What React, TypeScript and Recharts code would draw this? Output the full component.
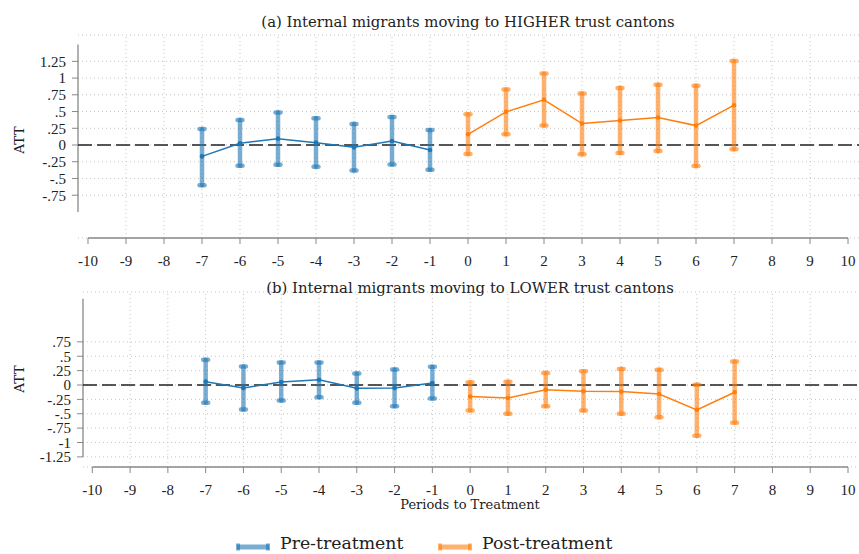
import { ComposedChart, Line, ErrorBar, XAxis, YAxis, CartesianGrid, ReferenceLine } from 'recharts';

const SERIF = '"Liberation Serif", "DejaVu Serif", serif';
const WIDE_SERIF = '"DejaVu Serif", serif';
const BLUE = '#1f77b4';
const ORANGE = '#ff7f0e';

const periodsPre = [-7, -6, -5, -4, -3, -2, -1];
const periodsPost = [0, 1, 2, 3, 4, 5, 6, 7];
const xTicks = [-10, -9, -8, -7, -6, -5, -4, -3, -2, -1, 0, 1, 2, 3, 4, 5, 6, 7, 8, 9, 10];
const gridX = [-9, -8, -7, -6, -5, -4, -3, -2, -1, 0, 1, 2, 3, 4, 5, 6, 7, 8, 9];

// (a) higher trust cantons
const higherPreAtt = [-0.17, 0.025, 0.095, 0.035, -0.035, 0.06, -0.075];
const higherPreLo = [-0.6, -0.31, -0.295, -0.325, -0.38, -0.29, -0.37];
const higherPreHi = [0.24, 0.375, 0.485, 0.4, 0.315, 0.42, 0.225];
const higherPostAtt = [0.16, 0.495, 0.675, 0.32, 0.365, 0.41, 0.29, 0.595];
const higherPostLo = [-0.135, 0.16, 0.29, -0.14, -0.12, -0.09, -0.315, -0.065];
const higherPostHi = [0.46, 0.83, 1.07, 0.77, 0.85, 0.9, 0.885, 1.255];
const higherYTicks = [-0.75, -0.5, -0.25, 0, 0.25, 0.5, 0.75, 1, 1.25];

// (b) lower trust cantons
const lowerPreAtt = [0.058, -0.052, 0.052, 0.092, -0.058, -0.052, 0.035];
const lowerPreLo = [-0.31, -0.427, -0.271, -0.213, -0.31, -0.369, -0.237];
const lowerPreHi = [0.44, 0.323, 0.392, 0.392, 0.202, 0.271, 0.317];
const lowerPostAtt = [-0.202, -0.225, -0.081, -0.11, -0.115, -0.156, -0.433, -0.127];
const lowerPostLo = [-0.444, -0.502, -0.369, -0.444, -0.502, -0.56, -0.883, -0.658];
const lowerPostHi = [0.046, 0.058, 0.208, 0.237, 0.277, 0.265, 0.006, 0.41];
const lowerYTicks = [-1.25, -1, -0.75, -0.5, -0.25, 0, 0.25, 0.5, 0.75];

type Row = { t: number; att: number; err: [number, number] };

function rows(ts: number[], att: number[], lo: number[], hi: number[]): Row[] {
  return ts.map((t, i) => ({ t, att: att[i], err: [att[i] - lo[i], hi[i] - att[i]] }));
}

const fmt = (v: number) => (v === 0 ? '0' : String(v).replace('0.', '.'));

function Panel({
  pre,
  post,
  yTicks,
  yDomain,
  xDomain,
  axisY,
  yAxisWidth,
  height,
  top,
}: {
  pre: Row[];
  post: Row[];
  yTicks: number[];
  yDomain: [number, number];
  xDomain: [number, number];
  axisY: [number, number];
  yAxisWidth: number;
  height: number;
  top: number;
}) {
  const tickStyle = { fontFamily: SERIF, fontSize: 15, fill: '#222' };
  return (
    <ComposedChart
      width={859}
      height={height}
      margin={{ top, right: 0, left: 0, bottom: 0 }}
      style={{ position: 'absolute', left: 0 }}
    >
      <CartesianGrid vertical={false} stroke="#c4c4c4" strokeDasharray="1 3" />
      {gridX.map((v) => (
        <ReferenceLine key={v} x={v} stroke="#c4c4c4" strokeDasharray="1 3" ifOverflow="visible" />
      ))}
      <XAxis
        dataKey="t"
        type="number"
        domain={xDomain}
        ticks={xTicks}
        interval={0}
        allowDataOverflow
        axisLine={false}
        tickSize={6}
        tickLine={{ stroke: '#888' }}
        tickMargin={11}
        tick={tickStyle}
        height={36}
      />
      <YAxis
        type="number"
        domain={yDomain}
        ticks={yTicks}
        interval={0}
        allowDataOverflow
        axisLine={false}
        tickSize={6}
        tickLine={{ stroke: '#888' }}
        tickMargin={6}
        tickFormatter={fmt}
        tick={tickStyle}
        width={yAxisWidth}
      />
      <ReferenceLine
        segment={[{ x: xDomain[0], y: axisY[0] }, { x: xDomain[0], y: axisY[1] }]}
        stroke="#888"
        strokeWidth={1.3}
        ifOverflow="visible"
      />
      <ReferenceLine
        segment={[{ x: -10, y: yDomain[0] }, { x: 10, y: yDomain[0] }]}
        stroke="#888"
        strokeWidth={1.3}
        ifOverflow="visible"
      />
      <ReferenceLine y={0} stroke="#222" strokeWidth={1.3} strokeDasharray="14 5" ifOverflow="visible" />
      <Line
        data={pre}
        dataKey="att"
        stroke={BLUE}
        strokeWidth={1.5}
        dot={{ r: 2.3, fill: BLUE, stroke: BLUE, strokeWidth: 0 }}
        isAnimationActive={false}
      >
        <ErrorBar
          dataKey="err"
          direction="y"
          width={2.5}
          stroke={BLUE}
          strokeOpacity={0.6}
          strokeWidth={4.5}
          strokeLinecap="round"
          isAnimationActive={false}
        />
      </Line>
      <Line
        data={post}
        dataKey="att"
        stroke={ORANGE}
        strokeWidth={1.5}
        dot={{ r: 2.3, fill: ORANGE, stroke: ORANGE, strokeWidth: 0 }}
        isAnimationActive={false}
      >
        <ErrorBar
          dataKey="err"
          direction="y"
          width={2.5}
          stroke={ORANGE}
          strokeOpacity={0.6}
          strokeWidth={4.5}
          strokeLinecap="round"
          isAnimationActive={false}
        />
      </Line>
    </ComposedChart>
  );
}

function Text({ x, y, size, children, rotate }: { x: number; y: number; size: number; children: string; rotate?: boolean }) {
  return (
    <div
      style={{
        position: 'absolute',
        left: x,
        top: y,
        transform: `translate(-50%, -50%)${rotate ? ' rotate(-90deg)' : ''}`,
        fontFamily: WIDE_SERIF,
        fontSize: size,
        color: '#222',
        whiteSpace: 'nowrap',
        lineHeight: 1,
      }}
    >
      {children}
    </div>
  );
}

function Swatch({ x, color }: { x: number; color: string }) {
  return (
    <svg width={36} height={10} style={{ position: 'absolute', left: x, top: 542 }}>
      <line x1={2} y1={5} x2={34} y2={5} stroke={color} strokeOpacity={0.6} strokeWidth={5} />
      <line x1={3} y1={1.5} x2={3} y2={8.5} stroke={color} strokeOpacity={0.6} strokeWidth={4} />
      <line x1={33} y1={1.5} x2={33} y2={8.5} stroke={color} strokeOpacity={0.6} strokeWidth={4} />
    </svg>
  );
}

const legendText = {
  position: 'absolute' as const,
  top: 535,
  fontFamily: WIDE_SERIF,
  fontSize: 17.3,
  lineHeight: 1,
  color: '#222',
  whiteSpace: 'nowrap' as const,
};

export default function App() {
  return (
    <div style={{ position: 'absolute', left: 0, top: 0, width: 859, height: 554, background: '#fff', overflow: 'hidden' }}>
      <div style={{ position: 'absolute', left: 0, top: 0 }}>
        <Panel
          pre={rows(periodsPre, higherPreAtt, higherPreLo, higherPreHi)}
          post={rows(periodsPost, higherPostAtt, higherPostLo, higherPostHi)}
          yTicks={higherYTicks}
          yDomain={[-1.3895, 1.6435]}
          xDomain={[-10.263, 10.289]}
          axisY={[-1, 1.5]}
          yAxisWidth={78}
          height={274}
          top={35}
        />
      </div>
      <div style={{ position: 'absolute', left: 0, top: 270 }}>
        <Panel
          pre={rows(periodsPre, lowerPreAtt, lowerPreLo, lowerPreHi)}
          post={rows(periodsPost, lowerPostAtt, lowerPostLo, lowerPostHi)}
          yTicks={lowerYTicks}
          yDomain={[-1.426, 1.617]}
          xDomain={[-10.246, 10.291]}
          axisY={[-1.25, 1.5]}
          yAxisWidth={83}
          height={233}
          top={22}
        />
      </div>
      <Text x={468} y={22} size={14.9}>(a) Internal migrants moving to HIGHER trust cantons</Text>
      <Text x={470} y={288} size={14.9}>(b) Internal migrants moving to LOWER trust cantons</Text>
      <Text x={20} y={140} size={13.5} rotate>ATT</Text>
      <Text x={20} y={379} size={13.5} rotate>ATT</Text>
      <Text x={470} y={504} size={13}>Periods to Treatment</Text>
      <Swatch x={235} color={BLUE} />
      <div style={{ ...legendText, left: 280 }}>Pre-treatment</div>
      <Swatch x={437} color={ORANGE} />
      <div style={{ ...legendText, left: 482 }}>Post-treatment</div>
    </div>
  );
}
